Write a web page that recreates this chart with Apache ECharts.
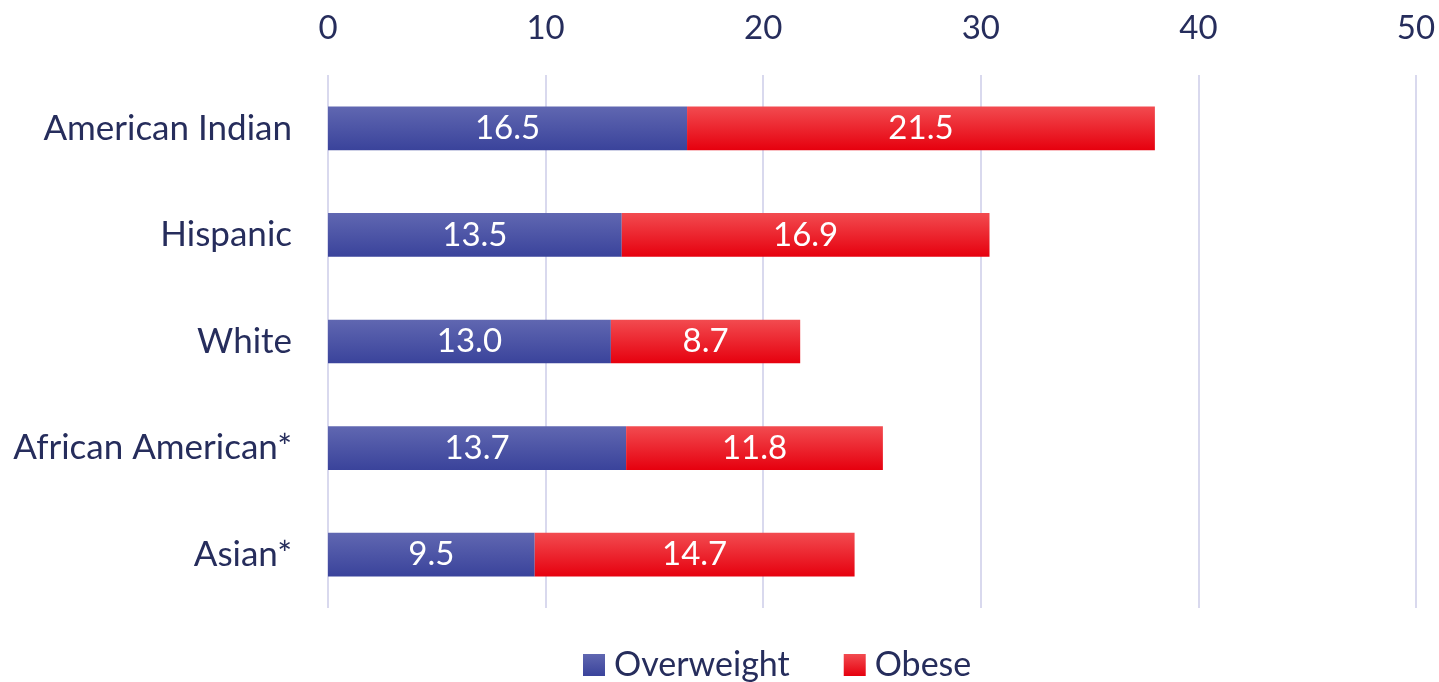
<!DOCTYPE html>
<html><head><meta charset="utf-8">
<script src="https://cdn.jsdelivr.net/npm/echarts@6/dist/echarts.min.js"></script>
<style>html,body{margin:0;padding:0;background:#fff}#c{width:1439px;height:682px}</style>
</head><body><div id="c"></div>
<script>
const categories = ['American Indian', 'Hispanic', 'White', 'African American*', 'Asian*'];
const overweight = [16.5, 13.5, 13.0, 13.7, 9.5];
const obese = [21.5, 16.9, 8.7, 11.8, 14.7];
const xTicks = [0, 10, 20, 30, 40, 50];

const font = 'Lato, "Open Sans", sans-serif';
const textColor = '#262d5c';
const fs = 33;
const chart = echarts.init(document.getElementById('c'));
const grad = (a, b) => new echarts.graphic.LinearGradient(0, 0, 0, 1, [{offset: 0, color: a}, {offset: 1, color: b}]);
chart.setOption({
  animation: false,
  grid: {left: 328, right: 23, top: 75, bottom: 74},
  legend: {
    top: 648, left: 583, itemWidth: 22, itemHeight: 22, itemGap: 54, padding: 0,
    icon: 'rect',
    textStyle: {fontFamily: font, fontSize: 34, color: textColor, padding: [0, 0, 0, 4]},
    data: ['Overweight', 'Obese']
  },
  xAxis: {
    type: 'value', position: 'top', min: xTicks[0], max: xTicks[xTicks.length - 1], interval: 10,
    axisLine: {show: false}, axisTick: {show: false},
    axisLabel: {fontFamily: font, fontSize: fs, color: textColor, margin: 30},
    splitLine: {lineStyle: {color: '#d9d9ee', width: 2}}
  },
  yAxis: {
    type: 'category', inverse: true, data: categories,
    axisLine: {show: false}, axisTick: {show: false},
    axisLabel: {fontFamily: font, fontSize: 35, color: textColor, margin: 36}
  },
  series: [
    {
      name: 'Overweight', type: 'bar', stack: 'a', data: overweight, barWidth: '41%',
      itemStyle: {color: grad('#6067b1', '#3a439b')},
      label: {show: true, position: 'inside', color: '#fff', fontFamily: font, fontSize: fs,
        formatter: p => p.value.toFixed(1)}
    },
    {
      name: 'Obese', type: 'bar', stack: 'a', data: obese, barWidth: '41%',
      itemStyle: {color: grad('#f24b50', '#e6000e')},
      label: {show: true, position: 'inside', color: '#fff', fontFamily: font, fontSize: fs,
        formatter: p => p.value.toFixed(1)}
    }
  ]
});
</script></body></html>
